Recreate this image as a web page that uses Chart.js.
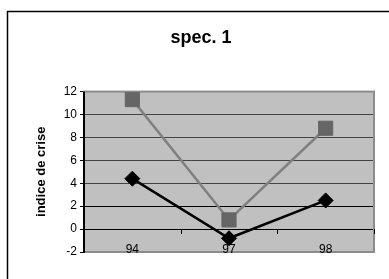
<!DOCTYPE html>
<html lang="fr">
<head>
<meta charset="UTF-8">
<title>spec. 1</title>
<style>
  body { margin: 0; background: #fff; }
  #wrap { width: 389px; height: 279px; }
</style>
</head>
<script src="https://cdn.jsdelivr.net/npm/chart.js@4.4.0/dist/chart.umd.min.js"></script>
<body>
<div id="wrap"><canvas id="chart" width="389" height="279"></canvas></div>
<script>
// donnees
var annees = ['94', '97', '98'];
var serieLosange = [4.4, -0.8, 2.5];
var serieCarre = [11.3, 0.8, 8.8];
var yMin = -2, yMax = 12, yPas = 2;

var police = 'Liberation Sans, Arial, sans-serif';

// fond, cadre, axe x a zero, etiquettes des annees
var decor = {
  id: 'decor',
  beforeDraw: function(chart) {
    var ctx = chart.ctx, a = chart.chartArea;
    ctx.save();
    ctx.fillStyle = '#fff';
    ctx.fillRect(0, 0, chart.width, chart.height);
    ctx.fillStyle = '#c0c0c0';
    ctx.fillRect(a.left, a.top, a.right - a.left, a.bottom - a.top);
    ctx.strokeStyle = '#000';
    ctx.lineWidth = 1.5;
    ctx.strokeRect(7.5, 11.5, 500, 400);
    ctx.restore();
  },
  beforeDatasetsDraw: function(chart) {
    var ctx = chart.ctx, a = chart.chartArea;
    var x = chart.scales.x, y = chart.scales.y;
    ctx.save();
    ctx.strokeStyle = '#8c8c8c';
    ctx.lineWidth = 2;
    ctx.strokeRect(a.left, a.top, a.right - a.left, a.bottom - a.top);
    // axe y
    ctx.strokeStyle = '#000';
    ctx.beginPath();
    ctx.moveTo(a.left, a.top);
    ctx.lineTo(a.left, a.bottom + 1);
    ctx.stroke();
    // graduations de l'axe x sur la ligne zero
    var y0 = y.getPixelForValue(0);
    ctx.lineWidth = 1;
    ctx.beginPath();
    for (var i = 0; i < annees.length; i++) {
      var px = Math.round(x.getPixelForValue(i + 0.5)) + 0.5;
      ctx.moveTo(px, y0);
      ctx.lineTo(px, y0 + 5);
    }
    ctx.stroke();
    // etiquettes en bas de la zone de tracé
    ctx.fillStyle = '#000';
    ctx.font = '12px ' + police;
    ctx.textAlign = 'center';
    ctx.textBaseline = 'middle';
    for (var j = 0; j < annees.length; j++) {
      ctx.fillText(annees[j], x.getPixelForValue(j), a.bottom - 2);
    }
    ctx.restore();
  }
};

new Chart(document.getElementById('chart'), {
  type: 'line',
  data: {
    labels: annees,
    datasets: [
      {
        data: serieLosange,
        borderColor: '#000',
        borderWidth: 2.5,
        pointStyle: 'rectRot',
        pointRadius: 7.5,
        pointBackgroundColor: '#000',
        pointBorderColor: '#000',
        pointBorderWidth: 1
      },
      {
        data: serieCarre,
        borderColor: '#808080',
        borderWidth: 2.5,
        pointStyle: 'rect',
        pointRadius: 10,
        pointBackgroundColor: '#666',
        pointBorderColor: '#666',
        pointBorderWidth: 1
      }
    ]
  },
  plugins: [decor],
  options: {
    responsive: false,
    animation: false,
    layout: { padding: { left: 28, right: 15, top: 0, bottom: 0 } },
    plugins: {
      legend: { display: false },
      tooltip: { enabled: false },
      title: {
        display: true,
        text: 'spec. 1',
        color: '#000',
        font: { family: police, size: 18, weight: 'bold' },
        padding: { top: 27, bottom: 43 }
      }
    },
    scales: {
      x: {
        offset: true,
        border: { display: false },
        grid: { display: false, drawTicks: false },
        ticks: { display: false },
        afterFit: function(s) { s.height = 27; }
      },
      y: {
        min: yMin,
        max: yMax,
        border: { display: false },
        grid: {
          color: function(c) {
            var v = c.tick.value;
            if (v === yMin || v === yMax) return 'rgba(0,0,0,0)';
            if (v === 0 || v === 2) return '#000';
            return '#444';
          },
          tickColor: '#000',
          tickLength: 4,
          lineWidth: 1
        },
        ticks: {
          stepSize: yPas,
          color: '#000',
          padding: 3,
          font: { family: police, size: 12 }
        },
        title: {
          display: true,
          text: 'indice de crise',
          color: '#000',
          padding: { top: 6, bottom: 0 },
          font: { family: police, size: 13, weight: 'bold' }
        },
        afterFit: function(s) { s.width = 56; }
      }
    }
  }
});
</script>
</body>
</html>
